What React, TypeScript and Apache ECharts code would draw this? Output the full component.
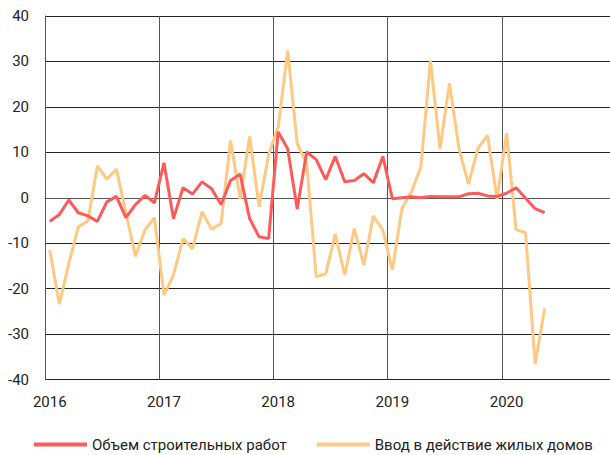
import React, { useEffect, useRef } from "react";
import * as echarts from "echarts";

const years = ["2016", "2017", "2018", "2019", "2020"];

const constructionWork = [
  -5.2, -3.7, -0.5, -3.3, -4.0, -5.2, -0.9, 0.3, -4.4, -1.5, 0.5, -1.1,
  7.7, -4.6, 2.2, 0.8, 3.5, 2.0, -1.5, 3.8, 5.2, -4.6, -8.6, -9.0,
  14.5, 10.8, -2.5, 10.1, 8.4, 4.0, 9.1, 3.5, 3.8, 5.3, 3.3, 9.1,
  -0.2, 0.0, 0.2, 0.0, 0.3, 0.2, 0.2, 0.2, 0.9, 1.0, 0.4, 0.3,
  1.0, 2.2, -0.1, -2.4, -3.3,
];

const housingCommissioned = [
  -11.5, -23.4, -14.5, -6.4, -5.1, 7.0, 4.1, 6.3, -3.3, -12.9, -7.1, -4.4,
  -21.4, -17.0, -9.0, -11.2, -3.1, -6.9, -5.7, 12.6, -0.3, 13.5, -2.0, 9.5,
  15.6, 32.4, 11.9, 7.5, -17.4, -16.7, -8.0, -17.0, -6.8, -14.8, -4.0, -7.1,
  -15.9, -2.4, 1.3, 6.8, 30.2, 10.8, 25.2, 10.8, 3.0, 10.9, 13.7, -0.3,
  14.2, -7.0, -7.7, -36.6, -24.4,
];

const seriesNames = ["Объем строительных работ", "Ввод в действие жилых домов"];

// monthly categories, Jan 2016 .. Dec 2020
const months: string[] = [];
years.forEach((y) => {
  for (let m = 1; m <= 12; m++) months.push(`${y}-${String(m).padStart(2, "0")}`);
});

export default function App() {
  const ref = useRef<HTMLDivElement>(null);
  useEffect(() => {
    document.body.style.margin = "0";
    if (!ref.current) return;
    const chart = echarts.init(ref.current, null, { renderer: "svg" });
    const font = "Roboto, 'Noto Sans', sans-serif";
    chart.setOption({
      animation: false,
      textStyle: { fontFamily: font },
      grid: { left: 45, right: 0, top: 16, bottom: 75.5, containLabel: false },
      legend: {
        left: 34,
        top: 437,
        width: 580,
        padding: 0,
        itemWidth: 53,
        itemHeight: 4,
        itemGap: 30,
        icon: "rect",
        textStyle: { fontSize: 15, color: "#222", fontFamily: font, padding: [0, 0, 0, 0] },
        data: seriesNames,
      },
      xAxis: {
        type: "category",
        data: months,
        boundaryGap: true,
        axisLine: { show: true, lineStyle: { color: "#555", width: 1 } },
        axisTick: { show: false },
        axisLabel: {
          interval: 11,
          formatter: (v: string) => v.slice(0, 4),
          fontSize: 15,
          color: "#222",
          margin: 15,
        },
        splitLine: { show: true, interval: 11, lineStyle: { color: "#555", width: 1 } },
      },
      yAxis: {
        type: "value",
        min: -40,
        max: 40,
        interval: 10,
        axisLine: { show: true, lineStyle: { color: "#555", width: 1 } },
        axisTick: { show: false },
        axisLabel: { fontSize: 15, color: "#222", margin: 16 },
        splitLine: { show: true, lineStyle: { color: "#222", width: 1 } },
      },
      series: [
        {
          name: seriesNames[0],
          type: "line",
          data: constructionWork,
          symbol: "none",
          z: 3,
          lineStyle: { color: "#FF5A5A", width: 3 },
          itemStyle: { color: "#FF5A5A" },
        },
        {
          name: seriesNames[1],
          type: "line",
          data: housingCommissioned,
          symbol: "none",
          z: 2,
          lineStyle: { color: "#FFC983", width: 3 },
          itemStyle: { color: "#FFC983" },
        },
      ],
    });
    return () => chart.dispose();
  }, []);
  return (
    <div style={{ width: 610, height: 455, overflow: "hidden", position: "relative" }}>
      <div ref={ref} style={{ width: 616, height: 455 }} />
    </div>
  );
}
